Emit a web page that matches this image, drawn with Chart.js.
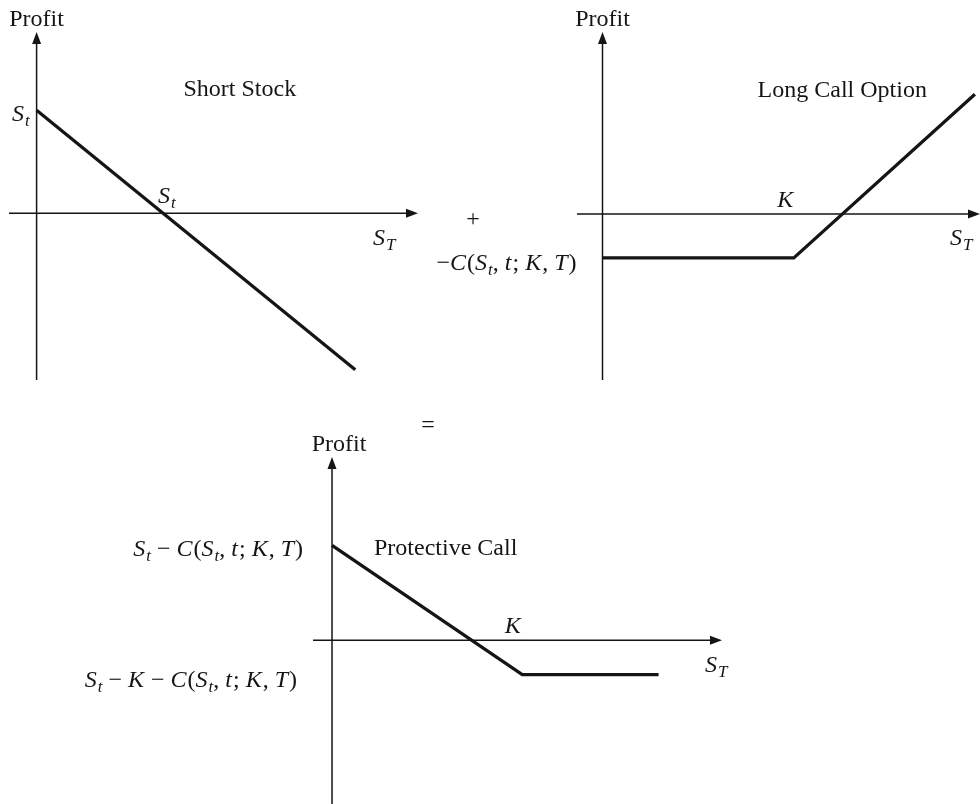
<!DOCTYPE html>
<html lang="en">
<head>
  <meta charset="UTF-8">
  <title>Protective Call Payoff</title>
  <script src="https://cdn.jsdelivr.net/npm/chart.js"></script>
  <style>
    body { margin: 0; background: #ffffff; }
    #wrap { position: relative; width: 980px; height: 804px; }
    #wrap canvas { position: absolute; left: 0; top: 0; }
  </style>
</head>
<body>
  <div id="wrap">
    <canvas id="shortChart" width="980" height="804"></canvas>
    <canvas id="callChart" width="980" height="804"></canvas>
    <canvas id="protChart" width="980" height="804"></canvas>
  </div>

  <script>
    // profit lines, x = S_T, y = profit (illustrative units)
    const shortStockX = [0, 127];
    const shortStockY = [50, -76];
    const longCallX = [0, 75, 146];
    const longCallY = [-19, -19, 52];
    const protectiveX = [0, 60, 103];
    const protectiveY = [44, -16, -16];

    // axis extents of each panel
    const shortRange = { xMin: -11, xMax: 152, yMin: -81, yMax: 88 };
    const callRange = { xMin: -10, xMax: 148, yMin: -72, yMax: 79 };
    const protRange = { xMin: -6, xMax: 123, yMin: -76, yMax: 85 };

    const SERIF = "'Liberation Serif', 'Times New Roman', serif";
    const INK = '#151515';

    function parseMath(str) {
      const parts = [];
      for (let i = 0; i < str.length; i++) {
        const ch = str[i];
        if (ch === '_') { parts.push({ t: str[++i], it: true, sub: true }); continue; }
        parts.push({ t: ch, it: /[A-Za-z]/.test(ch) });
      }
      return parts;
    }

    function drawLabel(ctx, lab, px, py) {
      const parts = lab.math ? parseMath(lab.text) : [{ t: lab.text }];
      const fontOf = p => (p.it ? 'italic ' : '') + (p.sub ? '17px ' : '24px ') + SERIF;
      let total = 0;
      const widths = parts.map(p => {
        ctx.font = fontOf(p);
        const w = ctx.measureText(p.t).width + (p.it && !p.sub ? 1 : 0);
        total += w;
        return w;
      });
      let x = px;
      if (lab.align === 'right') x = px - total;
      if (lab.align === 'center') x = px - total / 2;
      ctx.fillStyle = INK;
      ctx.textBaseline = 'alphabetic';
      ctx.textAlign = 'left';
      parts.forEach((p, k) => {
        ctx.font = fontOf(p);
        ctx.fillText(p.t, x, py + (p.sub ? 5 : 0));
        x += widths[k];
      });
    }

    function arrowHead(ctx, x, y, dir) {
      ctx.beginPath();
      if (dir === 'right') {
        ctx.moveTo(x, y);
        ctx.lineTo(x - 12, y - 4.5);
        ctx.lineTo(x - 12, y + 4.5);
      } else {
        ctx.moveTo(x, y);
        ctx.lineTo(x - 4.5, y + 12);
        ctx.lineTo(x + 4.5, y + 12);
      }
      ctx.closePath();
      ctx.fill();
    }

    const sketchPlugin = {
      id: 'sketch',
      beforeDatasetsDraw(chart) {
        const { ctx, chartArea: a, scales: { x, y } } = chart;
        const x0 = x.getPixelForValue(0);
        const y0 = y.getPixelForValue(0);
        ctx.save();
        ctx.strokeStyle = INK;
        ctx.fillStyle = INK;
        ctx.lineWidth = 1.5;
        ctx.beginPath();
        ctx.moveTo(a.left, y0);
        ctx.lineTo(a.right - 10, y0);
        ctx.moveTo(x0, a.bottom);
        ctx.lineTo(x0, a.top + 10);
        ctx.stroke();
        arrowHead(ctx, a.right, y0, 'right');
        arrowHead(ctx, x0, a.top, 'up');
        ctx.restore();
      },
      afterDraw(chart, args, opts) {
        const { ctx, scales: { x, y } } = chart;
        ctx.save();
        (opts.labels || []).forEach(lab => {
          const px = x.getPixelForValue(lab.at[0]) + (lab.dx || 0);
          const py = y.getPixelForValue(lab.at[1]) + (lab.dy || 0);
          drawLabel(ctx, lab, px, py);
        });
        ctx.restore();
      }
    };

    function makePanel(id, xs, ys, range, padding, labels) {
      new Chart(document.getElementById(id), {
        type: 'line',
        data: {
          datasets: [{
            data: xs.map((v, i) => ({ x: v, y: ys[i] })),
            borderColor: INK,
            borderWidth: 3.3,
            borderJoinStyle: 'miter',
            pointRadius: 0,
            tension: 0,
            clip: false
          }]
        },
        options: {
          responsive: false,
          animation: false,
          layout: { padding },
          scales: {
            x: { type: 'linear', display: false, min: range.xMin, max: range.xMax },
            y: { type: 'linear', display: false, min: range.yMin, max: range.yMax }
          },
          plugins: {
            legend: { display: false },
            tooltip: { enabled: false },
            sketch: { labels }
          }
        },
        plugins: [sketchPlugin]
      });
    }

    makePanel('shortChart', shortStockX, shortStockY, shortRange,
      { left: 9, right: 562, top: 32, bottom: 424 },
      [
        { text: 'Profit', at: [0, shortRange.yMax], dy: -6, align: 'center' },
        { text: 'Short Stock', at: [81, 57], align: 'center' },
        { text: 'S_t', math: true, at: [0, shortStockY[0]], dx: -7, dy: 11, align: 'right' },
        { text: 'S_t', math: true, at: [shortStockY[0], 0], dx: -4, dy: -10, align: 'left' },
        { text: 'S_T', math: true, at: [shortRange.xMax, 0], dx: -45, dy: 32, align: 'left' }
      ]);

    makePanel('callChart', longCallX, longCallY, callRange,
      { left: 577, right: -2, top: 32, bottom: 424 },
      [
        { text: 'Profit', at: [0, callRange.yMax], dy: -6, align: 'center' },
        { text: 'Long Call Option', at: [94, 51], align: 'center' },
        { text: 'K', math: true, at: [longCallX[1], 0], dx: -8, dy: -7, align: 'center' },
        { text: 'S_T', math: true, at: [callRange.xMax, 0], dx: -30, dy: 31, align: 'left' },
        { text: '−C(S_t, t; K, T)', math: true, at: [0, longCallY[0]], dx: -26, dy: 12, align: 'right' },
        { text: '+', at: [callRange.xMin, 0], dx: -104, dy: 12, align: 'center' }
      ]);

    makePanel('protChart', protectiveX, protectiveY, protRange,
      { left: 313, right: 258, top: 457, bottom: 0 },
      [
        { text: '=', at: [0, protRange.yMax], dx: 96, dy: -25, align: 'center' },
        { text: 'Profit', at: [0, protRange.yMax], dx: 7, dy: -6, align: 'center' },
        { text: 'Protective Call', at: [0, protectiveY[0]], dx: 42, dy: 10, align: 'left' },
        { text: 'S_t − C(S_t, t; K, T)', math: true, at: [0, protectiveY[0]], dx: -29, dy: 11, align: 'right' },
        { text: 'K', math: true, at: [protectiveX[1], 0], dx: -9, dy: -7, align: 'center' },
        { text: 'S_T', math: true, at: [protRange.xMax, 0], dx: -17, dy: 32, align: 'left' },
        { text: 'S_t − K − C(S_t, t; K, T)', math: true, at: [0, protectiveY[1]], dx: -35, dy: 12, align: 'right' }
      ]);
  </script>
</body>
</html>
